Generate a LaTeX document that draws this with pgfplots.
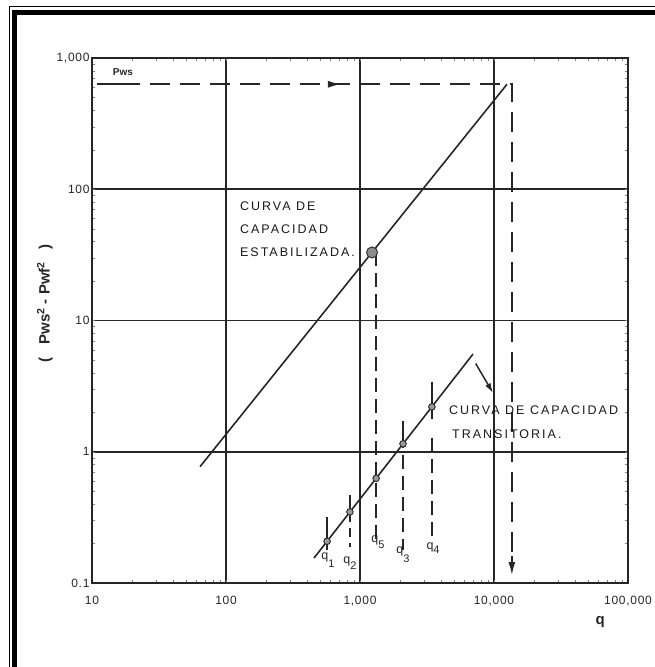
\documentclass[border=0pt]{standalone}
\usepackage{pgfplots}
\pgfplotsset{compat=1.18}
\usepackage{fontspec}
\setmainfont{Liberation Sans}
\newfontfamily\lab[LetterSpace=16]{Liberation Sans}
\newfontfamily\tk[LetterSpace=6]{Liberation Sans}
\usetikzlibrary{arrows.meta}
\begin{document}
\begin{tikzpicture}[x=1pt,y=1pt]
\path[use as bounding box] (-92,-84) rectangle (563,583);
\draw[line width=1.2pt] (-82.5,-84) -- (-82.5,576.5) -- (563,576.5);
\draw[line width=5pt] (-77.5,-84) -- (-77.5,570.5) -- (563,570.5);
\begin{axis}[at={(0,0)}, anchor=south west, scale only axis,
  width=536pt, height=525pt,
  xmode=log, ymode=log, xmin=10, xmax=100000, ymin=0.1, ymax=1000,
  xtick={10,100,1000,10000,100000},
  xticklabels={10,100,{1,000},{10,000},{100,000}},
  ytick={0.1,1,10,100,1000},
  yticklabels={0.1,1,10,100,{1,000}},
  minor xtick={}, minor ytick={},
  major tick length=0pt,
  grid=major, major grid style={black!85, line width=1.9pt},
  axis line style={black!85, line width=2pt},
  xticklabel style={font=\tk\fontsize{12}{13}\selectfont, text=black!85, yshift=-10pt},
  yticklabel style={font=\tk\fontsize{12}{13}\selectfont, text=black!85, xshift=1pt},
  clip=false]
% Pws dashed line with arrows
\addplot[black!85, line width=1.6pt] coordinates {(10.9,631) (22.8,631)};
\addplot[black!85, line width=1.6pt, dash pattern=on 20pt off 10pt] coordinates {(27,631) (13600,631) (13600,0.13)};
\addplot[black!85, line width=1.6pt, -{Latex[length=13pt,width=7pt]}] coordinates {(660,631) (721,631)};
\addplot[black!85, line width=1.6pt, -{Latex[length=13pt,width=7pt]}] coordinates {(13600,0.16) (13600,0.115)};
% stabilized curve
\addplot[black!85, line width=1.6pt] coordinates {(64,0.77) (12500,631)};
% transient curve
\addplot[black!85, line width=1.6pt] coordinates {(454,0.155) (6970,5.55)};
% q verticals
\addplot[black!85, line width=1.5pt] coordinates {(568,0.319) (568,0.179)};
\addplot[black!85, line width=1.5pt] coordinates {(841,0.47) (841,0.348)};
\addplot[black!85, line width=1.5pt, dash pattern=on 9pt off 6pt] coordinates {(841,0.34) (841,0.188)};
\addplot[black!85, line width=1.5pt, dash pattern=on 14pt off 7pt] coordinates {(1320,33) (1320,0.213)};
\addplot[black!85, line width=1.5pt] coordinates {(2094,1.73) (2094,1.07)};
\addplot[black!85, line width=1.5pt, dash pattern=on 14pt off 7pt] coordinates {(2094,0.95) (2094,0.179)};
\addplot[black!85, line width=1.5pt] coordinates {(3440,3.42) (3440,1.79)};
\addplot[black!85, line width=1.5pt, dash pattern=on 14pt off 7pt] coordinates {(3440,1.28) (3440,0.217)};
% leader arrow
\addplot[black!85, line width=1.5pt, -{Latex[length=10pt,width=6pt]}] coordinates {(7300,4.7) (9840,2.8)};
% points
\addplot[only marks, mark=*, mark size=5.5pt, mark options={fill=black!45, draw=black!80, line width=1pt}] coordinates {(1230,33)};
\addplot[only marks, mark=*, mark size=3.3pt, mark options={fill=black!40, draw=black!85, line width=0.9pt}] coordinates {(568,0.208) (841,0.348) (1320,0.628) (2094,1.15) (3440,2.2)};
% texts
\node[anchor=base west, font=\lab\fontsize{12.5}{13}\selectfont, text=black!90, inner sep=0] at (axis cs:127,69.2) {CURVA DE};
\node[anchor=base west, font=\lab\fontsize{12.5}{13}\selectfont, text=black!90, inner sep=0] at (axis cs:127,46.1) {CAPACIDAD};
\node[anchor=base west, font=\lab\fontsize{12.5}{13}\selectfont, text=black!90, inner sep=0] at (axis cs:127,30.8) {ESTABILIZADA.};
\node[anchor=base west, font=\lab\fontsize{12.5}{13}\selectfont, text=black!90, inner sep=0] at (axis cs:4610,1.91) {CURVA DE CAPACIDAD};
\node[anchor=base west, font=\lab\fontsize{12.5}{13}\selectfont, text=black!90, inner sep=0] at (axis cs:4860,1.26) {TRANSITORIA.};
\node[font=\bfseries\fontsize{10}{11}\selectfont, text=black!85] at (axis cs:17,782) {Pws};
\node[font=\fontsize{12.5}{13}\selectfont, text=black!85, inner sep=0] at (axis cs:577,0.150) {q\raisebox{-8pt}{\fontsize{11}{12}\selectfont 1}};
\node[font=\fontsize{12.5}{13}\selectfont, text=black!85, inner sep=0] at (axis cs:841,0.142) {q\raisebox{-6pt}{\fontsize{11}{12}\selectfont 2}};
\node[font=\fontsize{12.5}{13}\selectfont, text=black!85, inner sep=0] at (axis cs:1362,0.206) {q\raisebox{-6pt}{\fontsize{11}{12}\selectfont 5}};
\node[font=\fontsize{12.5}{13}\selectfont, text=black!85, inner sep=0] at (axis cs:2094,0.164) {q\raisebox{-9pt}{\fontsize{11}{12}\selectfont 3}};
\node[font=\fontsize{12.5}{13}\selectfont, text=black!85, inner sep=0] at (axis cs:3510,0.185) {q\raisebox{-4pt}{\fontsize{11}{12}\selectfont 4}};
\node[font=\bfseries\fontsize{15}{16}\selectfont, text=black!85] at (axis description cs:0.948,-0.074) {q};
\node[rotate=90, font=\bfseries\fontsize{15}{16}\selectfont, text=black!85] at (axis description cs:-0.088,0.533) {(\ \ \ Pws\textsuperscript{2} - Pwf\textsuperscript{2}\ \ \ )};
\end{axis}
\end{tikzpicture}
\end{document}
